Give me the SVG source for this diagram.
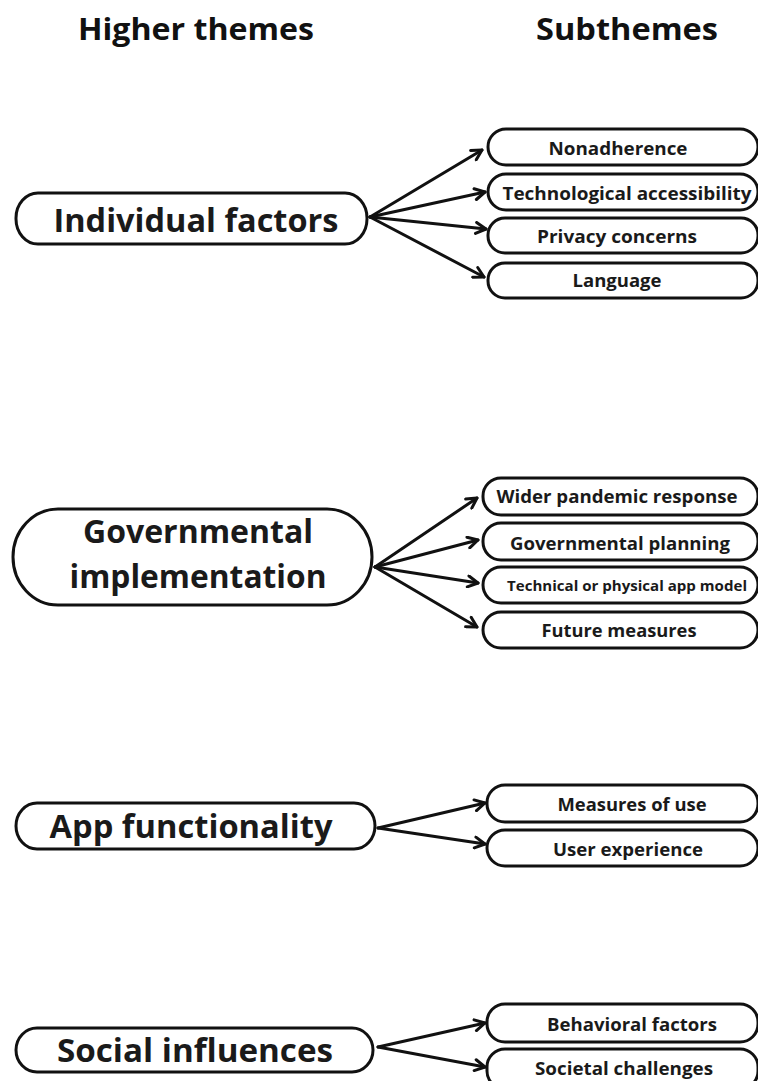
<svg xmlns="http://www.w3.org/2000/svg" width="758" height="1081" viewBox="0 0 758 1081">
  <style>
    .bg { fill: #ffffff; }
    .pill { fill: #ffffff; stroke: #111111; stroke-width: 3; }
    .box { fill: #ffffff; stroke: #111111; stroke-width: 3; }
    .title { font-family: "Open Sans", "Liberation Sans", sans-serif; font-weight: 700; font-size: 31px; fill: #111111; text-anchor: middle; }
    .main { font-family: "Open Sans", "Liberation Sans", sans-serif; font-weight: 700; font-size: 32px; fill: #1a1a1a; text-anchor: middle; }
    .sub { font-family: "Open Sans", "Liberation Sans", sans-serif; font-weight: 700; font-size: 18px; fill: #1a1a1a; text-anchor: middle; }
    .sub-sm { font-size: 14.5px; }
    .conn line { stroke: #111111; stroke-width: 3; stroke-linecap: round; marker-end: url(#chevron); }
  </style>
  <defs>
    <marker id="chevron" viewBox="0 0 14 14" refX="12" refY="7" markerWidth="14" markerHeight="14" markerUnits="userSpaceOnUse" orient="auto">
      <path d="M2,1.5 L12,7 L2,12.5" fill="none" stroke="#111111" stroke-width="3" stroke-linecap="round" stroke-linejoin="round"/>
    </marker>
  </defs>

  <rect class="bg" x="0" y="0" width="758" height="1081"/>

  <!-- column headings -->
  <g id="headings">
    <text class="title" x="196" y="40" textLength="236" lengthAdjust="spacingAndGlyphs">Higher themes</text>
    <text class="title" x="627" y="40" textLength="182" lengthAdjust="spacingAndGlyphs">Subthemes</text>
  </g>

  <!-- connectors -->
  <g id="connectors" class="conn">
    <line x1="370" y1="217" x2="482" y2="150"/>
    <line x1="370" y1="217" x2="485" y2="192"/>
    <line x1="370" y1="217" x2="486" y2="229"/>
    <line x1="370" y1="217" x2="484" y2="277"/>

    <line x1="375" y1="567" x2="477" y2="498"/>
    <line x1="375" y1="567" x2="478" y2="540"/>
    <line x1="375" y1="567" x2="478" y2="583"/>
    <line x1="375" y1="567" x2="477" y2="627"/>

    <line x1="378" y1="828" x2="485" y2="803"/>
    <line x1="378" y1="828" x2="485" y2="844"/>

    <line x1="378" y1="1047" x2="485" y2="1023"/>
    <line x1="378" y1="1047" x2="485" y2="1067"/>
  </g>

  <!-- higher themes -->
  <g id="individual-factors">
    <rect class="pill" x="16" y="193" width="351" height="51" rx="22" ry="25"/>
    <text class="main" x="196" y="232" textLength="285" lengthAdjust="spacingAndGlyphs">Individual factors</text>
  </g>
  <g id="governmental-implementation">
    <rect class="pill" x="13" y="509" width="359" height="96" rx="45" ry="48"/>
    <text class="main" x="198" y="543" textLength="230" lengthAdjust="spacingAndGlyphs">Governmental</text>
    <text class="main" x="198" y="588" textLength="257" lengthAdjust="spacingAndGlyphs">implementation</text>
  </g>
  <g id="app-functionality">
    <rect class="pill" x="16" y="803" width="359" height="46" rx="21" ry="23"/>
    <text class="main" x="191" y="838" textLength="283" lengthAdjust="spacingAndGlyphs">App functionality</text>
  </g>
  <g id="social-influences">
    <rect class="pill" x="16" y="1028" width="357" height="44" rx="21" ry="22"/>
    <text class="main" x="195" y="1062" textLength="276" lengthAdjust="spacingAndGlyphs">Social influences</text>
  </g>

  <!-- subthemes: individual factors -->
  <g id="nonadherence">
    <rect class="box" x="488" y="129" width="270" height="36" rx="18"/>
    <text class="sub" x="618" y="155" textLength="139" lengthAdjust="spacingAndGlyphs">Nonadherence</text>
  </g>
  <g id="technological-accessibility">
    <rect class="box" x="488" y="174" width="270" height="36" rx="18"/>
    <text class="sub" x="627" y="200" textLength="249" lengthAdjust="spacingAndGlyphs">Technological accessibility</text>
  </g>
  <g id="privacy-concerns">
    <rect class="box" x="488" y="218" width="270" height="35" rx="17"/>
    <text class="sub" x="617" y="243" textLength="160" lengthAdjust="spacingAndGlyphs">Privacy concerns</text>
  </g>
  <g id="language">
    <rect class="box" x="488" y="263" width="270" height="35" rx="17"/>
    <text class="sub" x="617" y="287" textLength="89" lengthAdjust="spacingAndGlyphs">Language</text>
  </g>

  <!-- subthemes: governmental implementation -->
  <g id="wider-pandemic-response">
    <rect class="box" x="483" y="478" width="275" height="37" rx="18"/>
    <text class="sub" x="617" y="503" textLength="241" lengthAdjust="spacingAndGlyphs">Wider pandemic response</text>
  </g>
  <g id="governmental-planning">
    <rect class="box" x="483" y="523" width="275" height="37" rx="18"/>
    <text class="sub" x="620" y="550" textLength="220" lengthAdjust="spacingAndGlyphs">Governmental planning</text>
  </g>
  <g id="technical-or-physical-app-model">
    <rect class="box" x="483" y="567" width="275" height="36" rx="18"/>
    <text class="sub sub-sm" x="627" y="591" textLength="240" lengthAdjust="spacingAndGlyphs">Technical or physical app model</text>
  </g>
  <g id="future-measures">
    <rect class="box" x="483" y="612" width="275" height="36" rx="18"/>
    <text class="sub" x="619" y="637" textLength="155" lengthAdjust="spacingAndGlyphs">Future measures</text>
  </g>

  <!-- subthemes: app functionality -->
  <g id="measures-of-use">
    <rect class="box" x="487" y="785" width="271" height="37" rx="18"/>
    <text class="sub" x="632" y="811" textLength="149" lengthAdjust="spacingAndGlyphs">Measures of use</text>
  </g>
  <g id="user-experience">
    <rect class="box" x="487" y="830" width="271" height="36" rx="18"/>
    <text class="sub" x="628" y="856" textLength="150" lengthAdjust="spacingAndGlyphs">User experience</text>
  </g>

  <!-- subthemes: social influences -->
  <g id="behavioral-factors">
    <rect class="box" x="487" y="1004" width="271" height="38" rx="18"/>
    <text class="sub" x="632" y="1031" textLength="170" lengthAdjust="spacingAndGlyphs">Behavioral factors</text>
  </g>
  <g id="societal-challenges">
    <rect class="box" x="487" y="1049" width="271" height="40" rx="18"/>
    <text class="sub" x="624" y="1075" textLength="178" lengthAdjust="spacingAndGlyphs">Societal challenges</text>
  </g>
</svg>
